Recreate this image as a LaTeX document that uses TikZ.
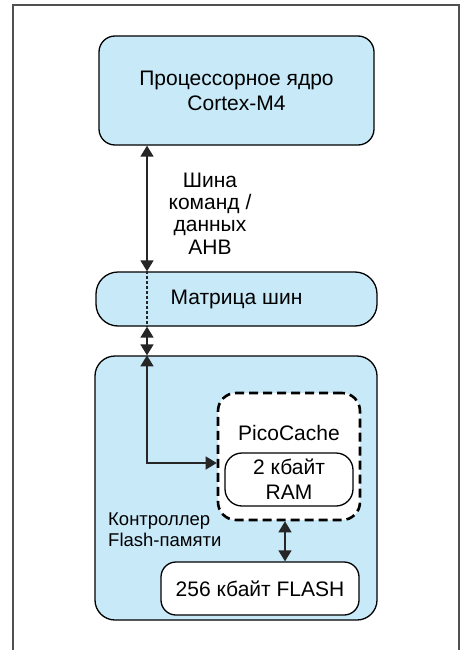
\documentclass[tikz,border=0pt]{standalone}
\usepackage{fontspec}
\setmainfont{Liberation Sans}
\usetikzlibrary{positioning,calc,arrows.meta}
\definecolor{blockfill}{HTML}{C7E9F8}
\definecolor{framegray}{HTML}{505050}
\tikzset{
    blockdiag/.style={
        x=1pt, y=-1pt,
        font=\fontsize{21}{25}\selectfont,
        % Blocchi azzurri (arrotondati)
        bluebox/.style={draw, rectangle, rounded corners=16pt, fill=blockfill,
                        line width=1.3pt, align=center, inner sep=0pt},
        % Blocchi bianchi di memoria
        membox/.style={draw, rectangle, rounded corners=15pt, fill=white,
                       line width=1.3pt, align=center, inner sep=0pt},
        % Cache tratteggiata
        cachebox/.style={draw, rectangle, rounded corners=18pt, fill=white,
                         line width=2.6pt, dash pattern=on 9pt off 5pt, inner sep=0pt},
        % Collegamenti
        link/.style={line width=1.4pt, draw=black!85,
                     {Triangle[length=11pt,width=13pt]}-{Triangle[length=11pt,width=13pt]}},
        dotlink/.style={line width=1.7pt, draw=black!85, dash pattern=on 3pt off 2pt},
        framebox/.style={line width=1.6pt, draw=framegray}
    }
}
\begin{document}
\begin{tikzpicture}[blockdiag]
    \useasboundingbox (0,0) rectangle (464,650);
    \draw[framebox] (13,650) -- (13,5) -- (459,5) -- (459,650);

    \node[bluebox, minimum width=275pt, minimum height=109pt] (core) at (236.5,90.5)
        {Процессорное ядро\\Cortex-M4};
    \node[bluebox, minimum width=281pt, minimum height=54pt, rounded corners=22pt] (matrix) at (236.5,299)
        {Матрица шин};
    \node[bluebox, minimum width=282pt, minimum height=264pt, rounded corners=20pt] (ctrl) at (236,488) {};
    \node[cachebox, minimum width=142pt, minimum height=127pt] (pico) at (289,456.5) {};
    \node (picolbl) at (289,433) {PicoCache};
    \node[membox, minimum width=128pt, minimum height=53pt, rounded corners=17pt] (ram) at (289,479.5)
        {2 кбайт\\RAM};
    \node[membox, minimum width=198pt, minimum height=53pt] (flash) at (260,588.5)
        {256 кбайт FLASH};
    \node[align=left, anchor=west, inner sep=0pt, font=\fontsize{18.5}{21}\selectfont] (ctrllbl) at (108,529.5)
        {Контроллер\\Flash-памяти};
    \node[align=center, font=\fontsize{21}{22.3}\selectfont] (buslbl) at (210,213.5)
        {Шина\\команд /\\данных\\АНВ};

    \coordinate (bus) at (147,0);
    \coordinate (turn) at (147,463);
    \coordinate (flx) at (285,0);

    \draw[link] (core.south -| bus) -- (matrix.north -| bus);
    \draw[dotlink] (matrix.north -| bus) -- (matrix.south -| bus);
    \draw[link] (matrix.south -| bus) -- (ctrl.north -| bus);
    \draw[link] (ctrl.north -| bus) -- (turn) -- (turn -| pico.west);
    \draw[link] (pico.south -| flx) -- (flash.north -| flx);
\end{tikzpicture}
\end{document}
